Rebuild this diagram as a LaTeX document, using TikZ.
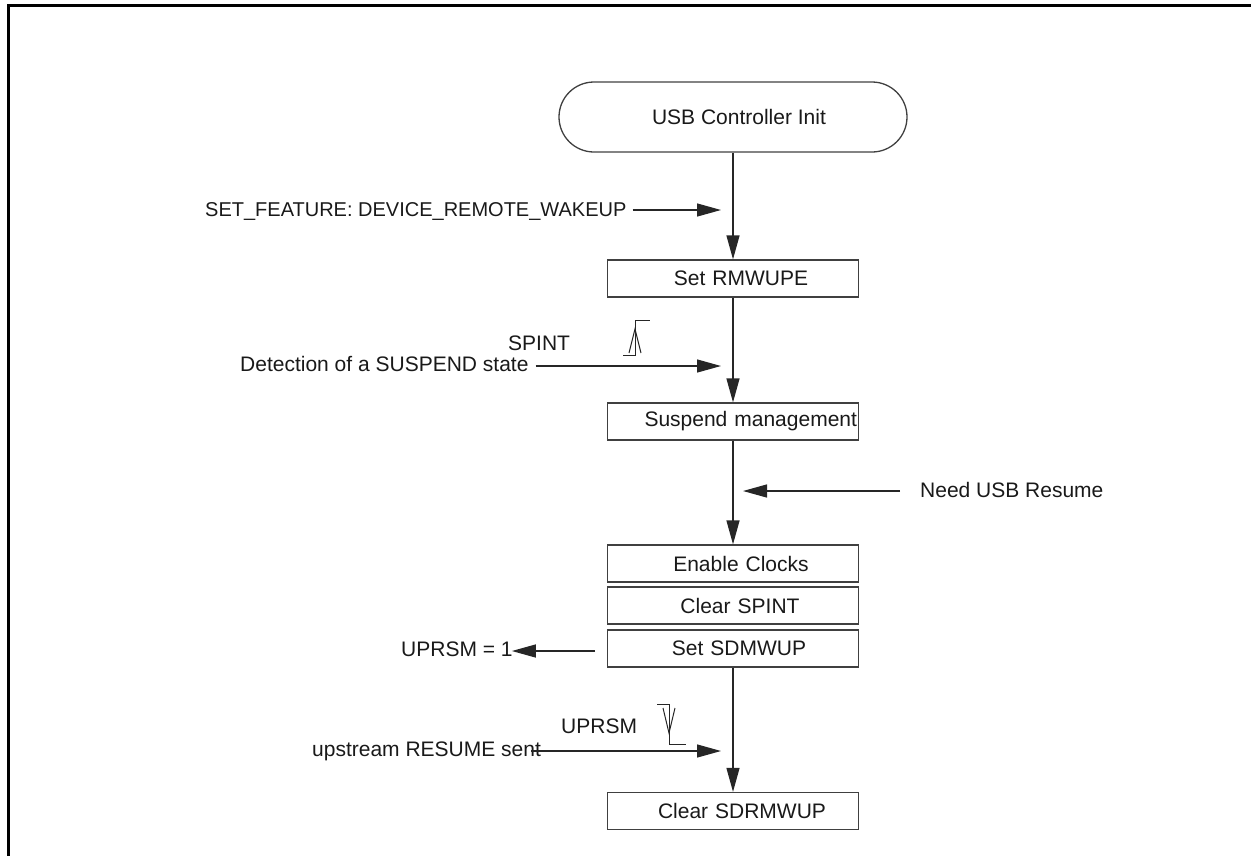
\documentclass[tikz,border=0pt]{standalone}
\usepackage{fontspec}
\setmainfont{Liberation Sans}
\usetikzlibrary{arrows.meta,shapes.misc}
\begin{document}
\begin{tikzpicture}[x=1pt,y=-1pt,
  every node/.style={font=\fontsize{21}{25}\selectfont, text=black!90},
  proc/.style={draw=black!75, line width=1.3pt, rectangle, text width=251pt, inner xsep=0pt, inner ysep=0pt, minimum height=37pt, align=center},
  procl/.style={proc, align=left},
  term/.style={draw=black!75, line width=1.3pt, rounded rectangle, minimum width=348pt, minimum height=70pt, inner sep=0pt},
  flow/.style={draw=black!85, line width=1.3pt, -{Triangle[length=24pt,width=13pt]}},
  sig/.style={draw=black!85, line width=1pt},
  lbl/.style={inner sep=0pt, anchor=base west}]
\useasboundingbox (0,0) rectangle (1251,855);
\draw[line width=3pt] (8,860) -- (8,5) -- (1260,5);

% process column
\node[term] (init) at (733,117) {\hspace*{12pt}USB Controller Init};
\node[proc] (rmw) at (733,278.5) {\hspace*{16pt}Set RMWUPE};
\node[procl] (susp) at (733,421.5) {\hspace*{37pt}Suspend management};
\node[proc] (enc) at (733,563.5) {\hspace*{16pt}Enable Clocks};
\node[proc] (clr) at (733,605.5) {\hspace*{14pt}Clear SPINT};
\node[proc] (sdm) at (733,648.5) {\hspace*{12pt}Set SDMWUP};
\node[proc] (clrsd) at (733,811) {\hspace*{18pt}Clear SDRMWUP};

\draw[flow] (init.south) -- (rmw.north);
\draw[flow] (rmw.south) -- (susp.north);
\draw[flow] (susp.south) -- (enc.north);
\draw[flow] (sdm.south) -- (clrsd.north);

% side labels
\node[lbl, font=\fontsize{20}{24}\selectfont] (sf) at (205,216) {SET\_FEATURE: DEVICE\_REMOTE\_WAKEUP};
\coordinate (sfend) at (721,210);
\draw[flow, shorten <=6pt] (sf.east |- sfend) -- (sfend);

\node[lbl] (spint) at (508,350) {SPINT};
\node[lbl] (det) at (240,371) {Detection of a SUSPEND state};
\coordinate (detend) at (721,366);
\draw[flow, shorten <=7pt] (det.east |- detend) -- (detend);

\node[lbl] (nur) at (920,497) {Need USB Resume};
\coordinate (nurend) at (743,491);
\draw[flow, shorten <=20pt] (nur.west |- nurend) -- (nurend);

\node[lbl] (u1) at (401,656) {UPRSM = 1};
\coordinate (u1start) at (595,651);
\draw[flow, shorten >=-1pt] (u1start) -- (u1.east |- u1start);

\node[lbl] (uprsm) at (561,733) {UPRSM};
\node[lbl] (up) at (312,756) {upstream RESUME sent};
\coordinate (upend) at (721,751);
\draw[flow, shorten <=-10pt] (up.east |- upend) -- (upend);

% rising edge symbol (SPINT)
\draw[sig] (623,355) -- (635,355) -- (635,320) -- (650,320);
\draw[sig] (629,353) -- (635,329) -- (641,353);
% falling edge symbol (UPRSM)
\draw[sig] (657,704) -- (669,704) -- (669,744) -- (686,744);
\draw[sig] (663,708) -- (669,733) -- (675,708);
\end{tikzpicture}
\end{document}
